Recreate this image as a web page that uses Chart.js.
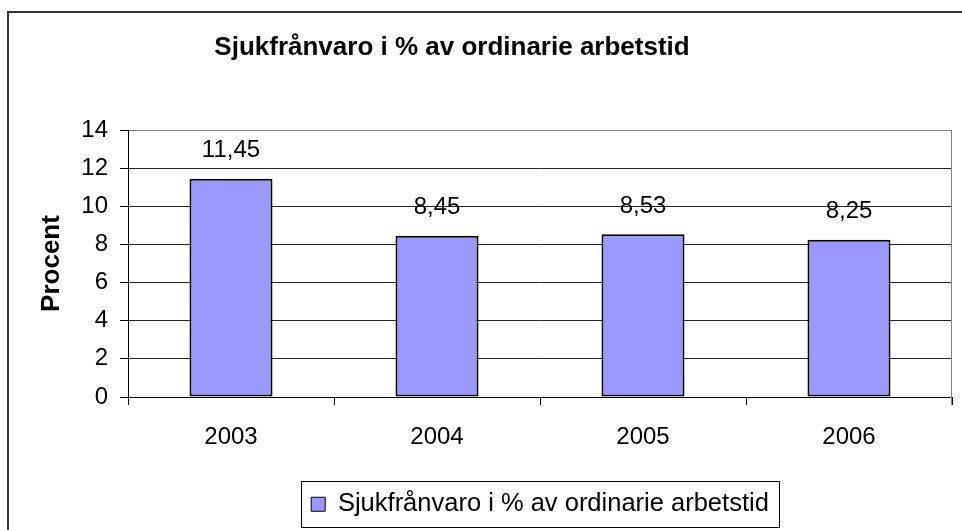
<!DOCTYPE html>
<html>
<head>
<meta charset="utf-8">
<script src="https://cdn.jsdelivr.net/npm/chart.js@4"></script>
<style>
  html, body { margin: 0; padding: 0; background: #fff; }
  canvas { display: block; }
</style>
</head>
<body>
<canvas id="c" width="962" height="530"></canvas>
<script>
const chartTitle = 'Sjukfrånvaro i % av ordinarie arbetstid';
const yAxisTitle = 'Procent';
const seriesName = 'Sjukfrånvaro i % av ordinarie arbetstid';
const categories = ['2003', '2004', '2005', '2006'];
const values = [11.45, 8.45, 8.53, 8.25];
const yMin = 0;
const yMax = 14;
const yStep = 2;

const FONT = "'Liberation Sans', Arial, sans-serif";

const decorPlugin = {
  id: 'decor',
  afterLayout(chart) {
    const t = chart.titleBlock;
    if (t) { t.left = 0; t.right = 904; }
  },
  beforeDatasetsDraw(chart) {
    const {ctx, chartArea: a} = chart;
    ctx.save();
    ctx.strokeStyle = '#808080';
    ctx.lineWidth = 1;
    ctx.beginPath();
    ctx.moveTo(Math.round(a.right) - 0.5, a.top);
    ctx.lineTo(Math.round(a.right) - 0.5, a.bottom + 8);
    ctx.stroke();
    ctx.restore();
  },
  afterDatasetsDraw(chart) {
    const {ctx} = chart;
    const meta = chart.getDatasetMeta(0);
    ctx.save();
    ctx.font = '24px ' + FONT;
    ctx.fillStyle = '#000';
    ctx.textAlign = 'center';
    ctx.textBaseline = 'middle';
    meta.data.forEach((bar, i) => {
      const v = chart.data.datasets[0].data[i];
      ctx.fillText(v.toFixed(2).replace('.', ','), bar.x, bar.y - 28);
    });
    ctx.restore();
  },
  afterDraw(chart) {
    const {ctx} = chart;
    ctx.save();
    ctx.strokeStyle = '#333';
    ctx.lineWidth = 2;
    ctx.beginPath();
    ctx.moveTo(8, 530);
    ctx.lineTo(8, 12);
    ctx.lineTo(962, 12);
    ctx.stroke();
    const lg = chart.legend;
    if (lg && lg.legendHitBoxes && lg.legendHitBoxes.length) {
      const hb = lg.legendHitBoxes[0];
      const cy = hb.top + hb.height / 2;
      ctx.strokeStyle = '#000';
      ctx.lineWidth = 1;
      ctx.strokeRect(Math.round(hb.left - 10) + 0.5, Math.round(cy - 23) + 0.5, Math.round(hb.width + 20), 46);
    }
    ctx.restore();
  }
};

new Chart(document.getElementById('c'), {
  type: 'bar',
  data: {
    labels: categories,
    datasets: [{
      label: seriesName,
      data: values,
      backgroundColor: '#9999FF',
      borderColor: '#000',
      borderWidth: 2,
      borderSkipped: false,
      categoryPercentage: 1,
      barPercentage: 0.403
    }]
  },
  options: {
    responsive: false,
    animation: false,
    devicePixelRatio: 1,
    layout: { padding: { left: 0, right: 10, top: 0, bottom: 3 } },
    plugins: {
      title: {
        display: true,
        text: chartTitle,
        color: '#000',
        font: { family: FONT, size: 26, weight: 'bold' },
        padding: { top: 32, bottom: 66.8 }
      },
      legend: {
        display: true,
        position: 'bottom',
        fullSize: false,
        labels: {
          color: '#000',
          font: { family: FONT, size: 25.5 },
          boxWidth: 14,
          boxHeight: 14,
          padding: 10,
          generateLabels: () => [{
            text: seriesName,
            fillStyle: '#9999FF',
            strokeStyle: '#000',
            lineWidth: 1,
            hidden: false,
            datasetIndex: 0
          }]
        }
      },
      tooltip: { enabled: false }
    },
    scales: {
      x: {
        offset: true,
        grid: {
          display: true,
          offset: true,
          drawOnChartArea: false,
          drawTicks: true,
          tickLength: 8,
          color: '#000'
        },
        border: { display: true, color: '#000', width: 1 },
        ticks: {
          color: '#000',
          font: { family: FONT, size: 24 },
          padding: 18,
          maxRotation: 0
        },
        afterFit(scale) { scale.height = 84.5; }
      },
      y: {
        min: yMin,
        max: yMax,
        ticks: {
          stepSize: yStep,
          color: '#000',
          font: { family: FONT, size: 24 },
          padding: 12
        },
        grid: {
          color: (c) => (c.tick && c.tick.value === yMax) ? '#808080' : '#222',
          lineWidth: 1,
          drawTicks: true,
          tickLength: 8,
          tickColor: '#000'
        },
        border: { display: true, color: '#000', width: 1 },
        title: {
          display: true,
          text: yAxisTitle,
          color: '#000',
          font: { family: FONT, size: 26, weight: 'bold' },
          padding: { top: 36.5, bottom: 0 }
        },
        afterFit(scale) { scale.width = 128; }
      }
    }
  },
  plugins: [decorPlugin]
});
</script>
</body>
</html>
